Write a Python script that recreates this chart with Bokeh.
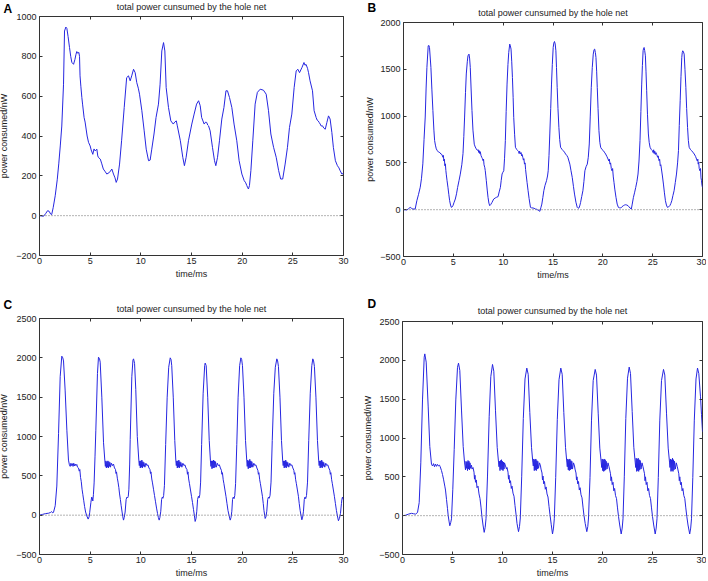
from jinja2 import Template
from bokeh.plotting import figure
from bokeh.models import Range1d, LinearAxis, Span, FixedTicker, Title
from bokeh.embed import file_html
from bokeh.resources import INLINE

# ---------------- data ----------------
x_ticks = [0, 5, 10, 15, 20, 25, 30]

# Panel A
t_a = [0, 0.4, 0.6, 0.8, 0.95, 1.1, 1.2, 1.35, 1.55, 1.75, 1.9, 2.05, 2.2, 2.37, 2.47, 2.6, 2.7, 2.82, 2.96,
       3.08, 3.19, 3.36, 3.5, 3.6, 3.68, 3.78, 3.88, 3.95, 4.0, 4.08, 4.18, 4.25, 4.4, 4.5, 4.6, 4.7, 4.84,
       5.0, 5.1, 5.26, 5.38, 5.5, 5.66, 5.75, 5.82, 6.0, 6.15, 6.3, 6.5, 6.64, 6.9, 7.14, 7.3, 7.45, 7.57,
       7.7, 7.9, 8.1, 8.36, 8.6, 8.78, 8.95, 9.1, 9.28, 9.44, 9.6, 9.75, 9.87, 10.1, 10.33, 10.53, 10.76,
       10.92, 11.08, 11.3, 11.5, 11.74, 11.9, 12.07, 12.24, 12.37, 12.5, 12.73, 12.96, 13.2, 13.35, 13.5,
       13.6, 13.9, 14.14, 14.3, 14.47, 14.7, 15.03, 15.26, 15.5, 15.7, 15.86, 16.0, 16.25, 16.4, 16.5,
       16.6, 16.68, 16.84, 17.07, 17.27, 17.4, 17.57, 17.76, 17.99, 18.2, 18.4, 18.55, 18.75, 18.98, 19.2,
       19.47, 19.7, 19.97, 20.2, 20.35, 20.46, 20.55, 20.62, 20.72, 20.86, 21.05, 21.28, 21.5, 21.78, 22.1,
       22.37, 22.6, 22.83, 22.95, 23.1, 23.36, 23.6, 23.8, 24.0, 24.24, 24.47, 24.67, 24.9, 25.13, 25.33,
       25.5, 25.66, 25.9, 26.1, 26.2, 26.3, 26.45, 26.55, 26.7, 26.94, 27.1, 27.3, 27.4, 27.5, 27.6, 27.7,
       27.8, 27.93, 28.05, 28.2, 28.36, 28.52, 28.68, 28.85, 29.0, 29.2, 29.4, 29.55, 29.67, 29.84, 30.0]
p_a = [0, -3, 10, 25, 22, 8, 5, 40, 100, 180, 260, 350, 450, 660, 927, 947, 940, 900, 845,
       800, 770, 760, 785, 810, 824, 815, 820, 800, 702, 650, 593, 560, 493, 470, 435, 400, 368,
       350, 330, 308, 335, 325, 334, 300, 292, 284, 260, 234, 220, 209, 217, 234, 209, 190, 167,
       184, 259, 376, 543, 693, 702, 677, 702, 735, 718, 668, 640, 610, 527, 426, 334, 276,
       279, 334, 410, 493, 560, 660, 827, 869, 827, 643, 543, 476, 460, 470, 476,
       451, 376, 293, 251, 293, 376, 460, 510, 560, 577, 552, 493, 460, 470, 468,
       455, 451, 426, 343, 276, 251, 293, 376, 485, 543, 627, 627, 593, 543, 460,
       376, 276, 209, 176, 165, 151, 140, 134, 151, 226, 376, 560, 619, 635, 630,
       610, 527, 410, 380, 343, 293, 226, 184, 184, 259, 343, 443, 510, 643, 727,
       735, 718, 744, 769, 755, 760, 740, 718, 677, 627, 527, 493, 480, 476, 468, 460,
       450, 451, 440, 434, 468, 501, 485, 418, 343, 276, 251, 240, 226, 209, 212]

# Panel B
t_b = [0, 0.33, 0.5, 0.67, 0.8, 0.94, 1.17, 1.34, 1.5, 1.68, 1.8, 1.94, 2.06, 2.18, 2.27, 2.35, 2.48, 2.55, 2.61,
       2.75, 2.85, 2.95, 3.05, 3.12, 3.2, 3.29, 3.4, 3.52, 3.65, 3.75, 3.85, 3.96, 4.0, 4.05, 4.1, 4.15, 4.2,
       4.25, 4.29, 4.37, 4.46, 4.55, 4.63, 4.72, 4.8, 4.88, 4.96, 5.08, 5.2, 5.32, 5.43, 5.57, 5.7, 5.85, 5.97,
       6.05, 6.13, 6.22, 6.3, 6.4, 6.47, 6.57, 6.63, 6.7, 6.78, 6.87, 6.97, 7.1, 7.2, 7.3, 7.4, 7.5, 7.54, 7.6,
       7.65, 7.7, 7.78, 7.85, 7.92, 7.98, 8.03, 8.08, 8.15, 8.2, 8.25, 8.31, 8.4, 8.48, 8.57, 8.65, 8.75, 8.88,
       9.05, 9.2, 9.32, 9.49, 9.6, 9.72, 9.8, 9.89, 9.97, 10.06, 10.14, 10.22, 10.3, 10.39, 10.48, 10.56,
       10.66, 10.72, 10.79, 10.86, 10.93, 11.0, 11.06, 11.15, 11.23, 11.35, 11.46, 11.55, 11.6, 11.65, 11.73,
       11.8, 11.85, 11.9, 11.97, 12.03, 12.08, 12.14, 12.2, 12.25, 12.3, 12.4, 12.5, 12.6, 12.74, 12.85, 13.0,
       13.1, 13.24, 13.35, 13.47, 13.58, 13.68, 13.78, 13.88, 13.98, 14.08, 14.2, 14.35, 14.45, 14.52, 14.6,
       14.68, 14.77, 14.85, 14.93, 15.02, 15.08, 15.15, 15.22, 15.29, 15.35, 15.42, 15.5, 15.59, 15.67, 15.76,
       15.9, 16.02, 16.15, 16.26, 16.38, 16.49, 16.6, 16.69, 16.8, 16.93, 17.05, 17.16, 17.3, 17.43, 17.52,
       17.6, 17.68, 17.77, 17.88, 18.0, 18.1, 18.2, 18.32, 18.44, 18.54, 18.64, 18.74, 18.84, 18.94, 19.04,
       19.12, 19.18, 19.25, 19.31, 19.38, 19.44, 19.52, 19.61, 19.7, 19.78, 19.9, 20.05, 20.15, 20.28, 20.4,
       20.52, 20.6, 20.65, 20.72, 20.78, 20.85, 20.92, 20.98, 21.05, 21.12, 21.2, 21.32, 21.44, 21.56, 21.68,
       21.79, 21.9, 22.06, 22.18, 22.29, 22.4, 22.53, 22.63, 22.73, 22.86, 22.95, 23.07, 23.18, 23.3, 23.42,
       23.53, 23.63, 23.73, 23.82, 23.9, 23.97, 24.04, 24.09, 24.14, 24.2, 24.27, 24.33, 24.4, 24.48, 24.57,
       24.65, 24.74, 24.85, 24.97, 25.05, 25.1, 25.15, 25.21, 25.27, 25.33, 25.41, 25.5, 25.55, 25.64, 25.7,
       25.76, 25.82, 25.88, 25.98, 26.08, 26.18, 26.28, 26.38, 26.48, 26.6, 26.72, 26.82, 26.92, 27.03, 27.15,
       27.27, 27.39, 27.5, 27.59, 27.67, 27.76, 27.84, 27.92, 27.97, 28.02, 28.09, 28.16, 28.24, 28.33, 28.41,
       28.5, 28.58, 28.66, 28.78, 28.9, 29.03, 29.17, 29.3, 29.4, 29.48, 29.53, 29.57, 29.62, 29.67, 29.74,
       29.8, 29.85, 29.9, 29.95, 30.0]
p_b = [0, -3, 10, 25, 15, 7, 7, 96, 160, 240, 330, 490, 750, 990, 1300, 1520, 1751, 1755, 1733,
       1520, 1280, 1060, 850, 740, 690, 650, 630, 615, 610, 595, 590, 560, 580, 520, 540, 470, 490,
       420, 380, 310, 240, 160, 96, 50, 25, 30, 43, 80, 114, 170, 238, 310, 380, 480, 600,
       780, 990, 1250, 1450, 1580, 1644, 1662, 1620, 1520, 1300, 1060, 850, 700, 670, 650, 635, 640, 612, 630,
       600, 620, 578, 560, 545, 524, 540, 480, 453, 420, 370, 310, 210, 132, 70, 43, 55, 78,
       114, 125, 132, 140, 190, 238, 310, 381, 400, 416, 550, 738, 1050, 1342, 1550, 1680,
       1769, 1750, 1716, 1580, 1413, 1200, 987, 800, 667, 645, 631, 620, 600, 625, 595,
       610, 575, 590, 560, 530, 545, 487, 500, 430, 381, 290, 203, 120, 25, 20, 18,
       15, 7, 5, -3, -10, -17, 20, 60, 130, 203, 260, 310, 360, 416, 580,
       809, 1080, 1342, 1550, 1733, 1780, 1797, 1770, 1698, 1520, 1307, 1080, 880, 750, 667,
       645, 631, 615, 595, 580, 560, 520, 487, 420, 345, 250, 167, 80, 25, 15,
       18, 40, 78, 140, 203, 300, 416, 460, 487, 560, 702, 1000, 1307, 1520, 1662,
       1710, 1716, 1680, 1627, 1480, 1307, 1080, 844, 720, 667, 645, 631, 615, 595, 570,
       542, 520, 540, 487, 500, 440, 416, 440, 350, 292, 220, 132, 60, 25, 20,
       18, 30, 43, 50, 53, 50, 43, 30, 18, 7, 60, 132, 180, 238, 300,
       381, 520, 738, 1050, 1342, 1540, 1698, 1725, 1733, 1700, 1644, 1480, 1271, 1020, 809,
       720, 667, 645, 631, 610, 640, 600, 625, 590, 610, 588, 560, 575, 524, 540,
       470, 480, 435, 360, 274, 180, 96, 50, 25, 30, 43, 65, 96, 150, 203,
       290, 381, 500, 631, 900, 1164, 1420, 1627, 1680, 1698, 1685, 1662, 1500, 1307, 1080,
       880, 740, 667, 645, 631, 615, 595, 570, 542, 520, 540, 487, 505, 440, 416,
       440, 340, 310, 260, 238]

# Panel C
t_c = [0, 0.3, 0.6, 0.9, 1.1, 1.2, 1.3, 1.38, 1.55, 1.71, 1.88, 2.04, 2.2, 2.3, 2.37, 2.53, 2.7, 2.86, 2.95,
       3.03, 3.1, 3.17, 3.24, 3.31, 3.38, 3.45, 3.52, 3.6, 3.68, 3.75,
       3.85, 3.92, 3.98, 4.05, 4.12, 4.2, 4.28, 4.36, 4.45, 4.55, 4.67, 4.8, 4.9, 4.95, 5.07, 5.15, 5.2, 5.26,
       5.32, 5.39, 5.48, 5.56, 5.72, 5.82, 5.92, 5.99, 6.15, 6.32, 6.45,
       6.5, 6.55, 6.6, 6.65, 6.7, 6.75, 6.8, 6.85, 6.9, 6.95, 7.0, 7.1, 7.2, 7.3, 7.4,
       7.5, 7.55, 7.6, 7.68, 7.75, 7.83, 7.9, 7.98, 8.06, 8.15, 8.22, 8.29, 8.36, 8.45, 8.55, 8.63, 8.7, 8.76,
       8.82, 8.9, 8.95, 9.11, 9.22, 9.28, 9.38, 9.5, 9.65, 9.8,
       9.85, 9.9, 9.95, 10.0, 10.05, 10.1, 10.15, 10.2, 10.25, 10.3, 10.4, 10.5, 10.6, 10.7, 10.8,
       10.9, 10.95, 11.0, 11.08, 11.15, 11.25, 11.35, 11.45, 11.55, 11.65, 11.73, 11.81, 11.88, 11.97, 12.05,
       12.12, 12.18, 12.25, 12.33, 12.45, 12.6, 12.75, 12.9, 12.98, 13.05, 13.2, 13.35, 13.45,
       13.5, 13.55, 13.6, 13.65, 13.7, 13.75, 13.8, 13.85, 13.9, 13.95, 14.05, 14.15, 14.25, 14.35, 14.45,
       14.55, 14.6, 14.65, 14.72, 14.8, 14.9, 15.0, 15.1, 15.2, 15.28, 15.36, 15.45, 15.52, 15.6, 15.68, 15.75,
       15.82, 15.9, 16.0, 16.15, 16.3, 16.35, 16.45, 16.6, 16.75, 16.87,
       16.92, 16.97, 17.02, 17.07, 17.12, 17.17, 17.22, 17.27, 17.32, 17.37, 17.45, 17.55, 17.65, 17.75, 17.85,
       17.95, 18.0, 18.05, 18.13, 18.2, 18.3, 18.4, 18.5, 18.6, 18.7, 18.82, 18.9, 18.98, 19.05, 19.12, 19.2,
       19.27, 19.35, 19.47, 19.6, 19.75, 19.87, 19.95, 20.03, 20.18, 20.33, 20.45,
       20.5, 20.55, 20.6, 20.65, 20.7, 20.75, 20.8, 20.85, 20.9, 20.95, 21.05, 21.15, 21.25, 21.35, 21.45,
       21.55, 21.6, 21.65, 21.73, 21.8, 21.9, 22.0, 22.08, 22.15, 22.22, 22.27, 22.35, 22.43, 22.52, 22.6,
       22.67, 22.75, 22.85, 22.97, 23.12, 23.27, 23.42, 23.5, 23.58, 23.73, 23.88, 24.0,
       24.05, 24.1, 24.15, 24.2, 24.25, 24.3, 24.35, 24.4, 24.45, 24.5, 24.6, 24.7, 24.8, 24.9, 25.0,
       25.1, 25.15, 25.2, 25.28, 25.35, 25.45, 25.55, 25.63, 25.72, 25.8, 25.89, 25.97, 26.05, 26.13, 26.2,
       26.27, 26.35, 26.45, 26.57, 26.72, 26.87, 26.97, 27.05, 27.13, 27.28, 27.43, 27.55,
       27.6, 27.65, 27.7, 27.75, 27.8, 27.85, 27.9, 27.95, 28.0, 28.05, 28.15, 28.25, 28.35, 28.45, 28.55,
       28.65, 28.7, 28.75, 28.83, 28.9, 29.0, 29.1, 29.2, 29.3, 29.4, 29.5, 29.6, 29.7, 29.8, 29.84, 29.9, 30.0]
p_c = [0, 10, 20, 25, 35, 45, 30, 35, 120, 370, 1040, 1760, 2021, 2000, 1960, 1590, 1080, 700, 640,
       620, 660, 630, 655, 620, 660, 625, 650, 630, 645, 610,
       600, 560, 580, 480, 430, 330, 260, 190, 110, 40, -10, -50, -20, 30, 160, 230, 220, 180,
       260, 410, 750, 1080, 1800, 2008, 1990, 1945, 1500, 920, 690,
       620, 690, 600, 680, 610, 690, 600, 680, 620, 670, 610, 660, 630, 650, 600,
       580, 530, 550, 470, 420, 350, 270, 200, 120, 40, -20, -63, -30, 40, 200, 230, 220, 240,
       330, 650, 960, 1760, 1970, 1987, 1930, 1600, 1000, 700,
       630, 690, 600, 690, 610, 700, 600, 680, 620, 670, 610, 660, 630, 640, 600,
       580, 530, 550, 460, 410, 330, 250, 170, 90, 20, -30, -63, -30, 50, 200,
       230, 215, 250, 380, 900, 1500, 1880, 2000, 1980, 1900, 1500, 950, 700,
       630, 690, 600, 690, 610, 700, 600, 680, 620, 670, 610, 660, 630, 640, 600,
       580, 520, 550, 460, 400, 320, 240, 160, 70, 0, -80, -40, 50, 200, 240, 220,
       260, 420, 900, 1550, 1900, 1933, 1900, 1500, 950, 690,
       620, 690, 590, 690, 600, 700, 600, 690, 610, 680, 610, 660, 630, 640, 600,
       570, 520, 540, 450, 400, 320, 240, 150, 60, 0, -63, -30, 50, 200, 230, 210,
       250, 400, 900, 1500, 1900, 2000, 1980, 1900, 1500, 950, 700,
       620, 700, 590, 690, 600, 710, 600, 690, 610, 680, 610, 660, 630, 640, 600,
       570, 520, 540, 450, 400, 320, 240, 150, 60, 0, -42, -20, 50, 200, 230,
       215, 250, 420, 950, 1550, 1880, 1987, 1960, 1890, 1500, 950, 690,
       630, 690, 600, 690, 610, 700, 600, 680, 620, 670, 610, 660, 630, 640, 600,
       570, 520, 540, 450, 400, 320, 240, 150, 60, 0, -59, -25, 50, 200, 230,
       210, 250, 420, 950, 1550, 1900, 1987, 1960, 1890, 1500, 950, 690,
       630, 690, 600, 690, 610, 700, 600, 680, 620, 670, 610, 660, 630, 640, 600,
       570, 520, 540, 450, 400, 320, 240, 150, 60, -10, -71, -40, 20, 150, 200, 230, 190]

# Panel D
t_d = [0, 0.3, 0.6, 0.9, 1.1, 1.3, 1.5, 1.67, 1.83, 2.0, 2.17, 2.23, 2.37, 2.57, 2.73, 2.9,
       3.0, 3.1, 3.2, 3.3, 3.4, 3.5, 3.6, 3.7, 3.77,
       3.9, 4.0, 4.1, 4.23, 4.3, 4.4, 4.5, 4.57, 4.65, 4.73, 4.82, 4.9, 5.03, 5.17, 5.33, 5.5, 5.6, 5.73, 5.9,
       6.07, 6.2,
       6.25, 6.3, 6.35, 6.4, 6.45, 6.5, 6.55, 6.6, 6.65, 6.7, 6.75, 6.8, 6.9, 6.95, 7.05,
       7.15, 7.2, 7.25, 7.3, 7.38, 7.45, 7.55, 7.65, 7.75, 7.85, 7.95, 8.05, 8.17, 8.27, 8.35, 8.5, 8.67, 8.83,
       9.0, 9.13, 9.3, 9.47, 9.6,
       9.65, 9.7, 9.75, 9.8, 9.85, 9.9, 9.95, 10.0, 10.05, 10.1, 10.15, 10.2, 10.3, 10.4, 10.45,
       10.55, 10.6, 10.65, 10.72, 10.8, 10.88, 10.95, 11.05, 11.15, 11.25, 11.35, 11.45, 11.6, 11.7, 11.78,
       11.92, 12.08, 12.25, 12.43, 12.57, 12.73, 12.9, 13.03,
       13.08, 13.13, 13.18, 13.23, 13.28, 13.33, 13.38, 13.43, 13.48, 13.53, 13.6, 13.7, 13.8, 13.85,
       13.95, 14.0, 14.05, 14.12, 14.2, 14.28, 14.36, 14.45, 14.55, 14.65, 14.75, 14.87, 15.0, 15.1, 15.18,
       15.32, 15.48, 15.65, 15.83, 15.97, 16.13, 16.3, 16.43,
       16.48, 16.53, 16.58, 16.63, 16.68, 16.73, 16.78, 16.83, 16.88, 16.93, 17.0, 17.1, 17.2, 17.25,
       17.35, 17.4, 17.45, 17.52, 17.6, 17.68, 17.76, 17.85, 17.95, 18.05, 18.15, 18.27, 18.43, 18.53, 18.6,
       18.75, 18.9, 19.07, 19.27, 19.4, 19.57, 19.73, 19.87,
       19.92, 19.97, 20.02, 20.07, 20.12, 20.17, 20.22, 20.27, 20.32, 20.37, 20.45, 20.55, 20.65, 20.7,
       20.8, 20.85, 20.9, 20.97, 21.05, 21.13, 21.21, 21.3, 21.4, 21.5, 21.6, 21.72, 21.87, 21.97, 22.05,
       22.18, 22.33, 22.5, 22.67, 22.8, 22.97, 23.13, 23.27,
       23.32, 23.37, 23.42, 23.47, 23.52, 23.57, 23.62, 23.67, 23.72, 23.77, 23.85, 23.95, 24.05, 24.1,
       24.2, 24.25, 24.3, 24.37, 24.45, 24.53, 24.61, 24.7, 24.8, 24.9, 25.0, 25.12, 25.27, 25.37, 25.45,
       25.58, 25.73, 25.9, 26.1, 26.23, 26.4, 26.57, 26.7,
       26.75, 26.8, 26.85, 26.9, 26.95, 27.0, 27.05, 27.1, 27.15, 27.2, 27.28, 27.38, 27.48, 27.53,
       27.63, 27.68, 27.73, 27.8, 27.88, 27.96, 28.04, 28.13, 28.23, 28.33, 28.43, 28.55, 28.72, 28.82, 28.9,
       29.03, 29.18, 29.35, 29.5, 29.63, 29.8, 29.9, 30.0]
p_d = [0, 5, 20, 30, 25, 20, 40, 168, 680, 1490, 2040, 2083, 1977, 1400, 890, 660,
       640, 670, 630, 665, 635, 660, 640, 650, 630,
       580, 530, 470, 380, 330, 210, 90, 0, -70, -130, -90, -40, 340, 850, 1490, 1910, 1964, 1870, 1360,
       890, 690,
       640, 590, 700, 610, 690, 580, 710, 600, 700, 590, 680, 610, 650, 600, 620,
       560, 470, 520, 430, 460, 360, 380, 280, 220, 110, -20, -120, -215, -150, -40, 510, 1280, 1790,
       1947, 1860, 1350, 880, 690,
       630, 700, 580, 710, 600, 720, 590, 700, 580, 690, 600, 680, 640, 600, 620,
       560, 470, 520, 420, 450, 350, 380, 290, 250, 130, 20, -100, -206, -140, -30,
       500, 1250, 1760, 1900, 1820, 1330, 880, 690,
       640, 730, 580, 720, 590, 730, 580, 710, 600, 700, 610, 680, 640, 600,
       550, 460, 510, 410, 440, 340, 370, 280, 240, 120, 10, -110, -236, -160, -40,
       490, 1240, 1750, 1900, 1820, 1330, 880, 690,
       630, 730, 590, 720, 580, 730, 590, 710, 600, 700, 600, 680, 640, 600,
       550, 460, 500, 410, 440, 330, 360, 270, 230, 110, 0, -100, -206, -140, -30,
       490, 1230, 1740, 1883, 1810, 1320, 870, 690,
       620, 730, 580, 720, 570, 730, 580, 720, 590, 700, 600, 680, 630, 600,
       540, 450, 500, 400, 430, 320, 350, 260, 220, 100, -10, -120, -236, -160, -40,
       500, 1250, 1770, 1913, 1830, 1340, 880, 690,
       620, 740, 570, 730, 580, 740, 570, 720, 590, 710, 600, 680, 630, 600,
       540, 450, 500, 400, 430, 320, 350, 260, 220, 100, -10, -120, -236, -160, -40,
       490, 1230, 1740, 1883, 1810, 1320, 870, 690,
       620, 730, 570, 720, 580, 740, 570, 720, 590, 700, 600, 680, 630, 600,
       540, 450, 500, 400, 430, 320, 350, 260, 220, 100, -10, -120, -236, -160, -40,
       490, 1230, 1760, 1900, 1830, 1530, 1300, 1080]

y_ticks_a = [-200, 0, 200, 400, 600, 800, 1000]
y_ticks_b = [-500, 0, 500, 1000, 1500, 2000]
y_ticks_cd = [-500, 0, 500, 1000, 1500, 2000, 2500]

panel_letters = ["A", "B", "C", "D"]
title_text = "total power cunsumed by the hole net"
x_label = "time/ms"
y_label = "power consumed/nW"

FONT = "Liberation Sans"
LINE_COLOR = "#2626e0"
AX_COLOR = "#333333"
TXT_COLOR = "#222222"


def make_panel(name, t, v, yr, yticks, w, h, bl, br, bt, bb, ylab_standoff,
               letter, letter_dx, letter_so, title_so):
    p = figure(name=name, width=w, height=h, x_range=Range1d(0, 30), y_range=Range1d(*yr),
               output_backend="svg", toolbar_location=None,
               min_border_left=bl, min_border_right=br, min_border_top=bt, min_border_bottom=bb)
    p.xgrid.visible = False
    p.ygrid.visible = False
    p.outline_line_color = AX_COLOR
    p.outline_line_width = 1
    p.background_fill_color = "white"
    p.border_fill_color = None   # transparent, panels may overlap a little

    for ax, ticks in ((p.xaxis[0], x_ticks), (p.yaxis[0], yticks)):
        ax.ticker = FixedTicker(ticks=ticks)
        ax.axis_line_color = None
        ax.major_tick_in = 3
        ax.major_tick_out = 0
        ax.major_tick_line_color = AX_COLOR
        ax.minor_tick_line_color = None
        ax.major_label_text_font = FONT
        ax.major_label_text_font_size = "9px"
        ax.major_label_text_color = TXT_COLOR
        ax.axis_label_text_font = FONT
        ax.axis_label_text_font_size = "9px"
        ax.axis_label_text_font_style = "normal"
        ax.axis_label_text_color = TXT_COLOR
    p.xaxis[0].axis_label = x_label
    p.xaxis[0].major_label_standoff = 2
    p.xaxis[0].axis_label_standoff = 2
    p.yaxis[0].axis_label = y_label
    p.yaxis[0].major_label_standoff = 3
    p.yaxis[0].axis_label_standoff = ylab_standoff

    # tick marks on the top and right edges of the box (no labels)
    for side, ticks in (("above", x_ticks), ("right", yticks)):
        ax = LinearAxis(ticker=FixedTicker(ticks=ticks))
        ax.axis_line_color = None
        ax.major_tick_in = 3
        ax.major_tick_out = 0
        ax.major_tick_line_color = AX_COLOR
        ax.minor_tick_line_color = None
        ax.major_label_text_color = None
        ax.major_label_text_font_size = "0px"
        ax.major_label_standoff = 0
        ax.axis_label_standoff = 0
        p.add_layout(ax, side)

    # panel letter and title: zero-height side panels, text lifted with a negative standoff
    p.add_layout(Title(text=letter, align="left", offset=letter_dx, vertical_align="top",
                       standoff=letter_so, text_font=FONT, text_font_size="12px",
                       text_font_style="bold", text_color="black"), "above")
    p.title.text = title_text
    p.title.align = "center"
    p.title.vertical_align = "top"
    p.title.text_font = FONT
    p.title.text_font_size = "9px"
    p.title.text_font_style = "normal"
    p.title.text_color = TXT_COLOR
    p.title.standoff = title_so

    p.add_layout(Span(location=0, dimension="width", line_color="#666666",
                      line_dash="1 2", line_width=1))
    p.line(t, v, line_color=LINE_COLOR, line_width=1)
    return p


pA = make_panel("pA", t_a, p_a, (-200, 1000), y_ticks_a, 370, 302, 49, 17, 28, 35, 4,
                panel_letters[0], -36, -30, -30)
pB = make_panel("pB", t_b, p_b, (-500, 2000), y_ticks_b, 354, 302, 51, 4, 34, 34, 2,
                panel_letters[1], -36, -43, -29)
pC = make_panel("pC", t_c, p_c, (-500, 2500), y_ticks_cd, 370, 296, 49, 17, 34, 24, 4,
                panel_letters[2], -36, -41, -30)
pD = make_panel("pD", t_d, p_d, (-500, 2500), y_ticks_cd, 354, 296, 50, 4, 37, 24, 3,
                panel_letters[3], -35, -49, -32)

# page position of each panel's canvas (left, top); canvases start a little outside
# the window so that the panel letters are not pushed inward
slots = [[-10, -12], [352, -12], [-10, 284], [352, 284]]

PAGE = Template("""{% from macros import embed %}
<!DOCTYPE html>
<html lang="en">
<head>
<meta charset="utf-8">
<title>total power cunsumed by the hole net</title>
<style>html, body { margin: 0; padding: 0; background: white; overflow: hidden; }</style>
{{ bokeh_css if bokeh_css }}
{{ bokeh_js if bokeh_js }}
</head>
<body>
{% for doc in docs %}
{% for root in doc.roots %}
<div style="position: absolute; left: {{ slots[loop.index0][0] }}px; top: {{ slots[loop.index0][1] }}px;">
{{ embed(root) }}
</div>
{% endfor %}
{% endfor %}
{{ plot_script }}
</body>
</html>
""")

open("out.html", "w").write(file_html([pA, pB, pC, pD], INLINE, template=PAGE,
                                      template_variables={"slots": slots}))
